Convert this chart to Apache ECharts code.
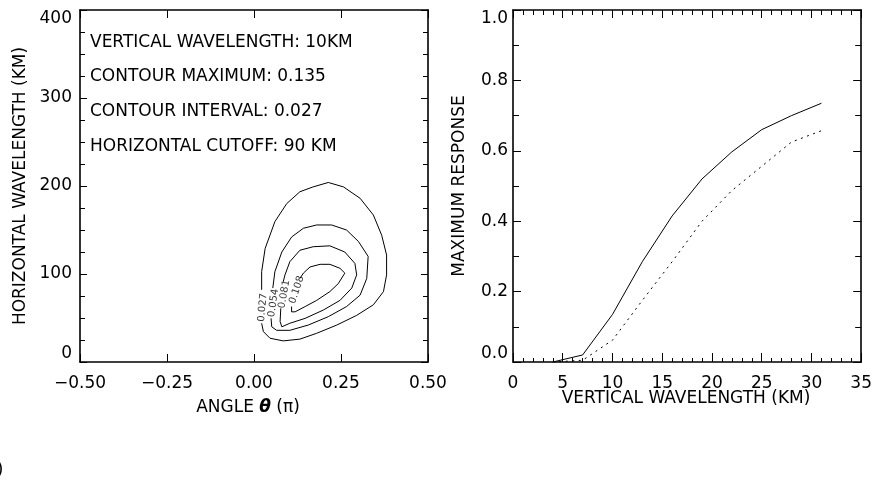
<!DOCTYPE html>
<html><head><meta charset="utf-8">
<script src="https://cdn.jsdelivr.net/npm/echarts@6/dist/echarts.min.js"></script>
<style>html,body{margin:0;padding:0;background:#fff;}#c{width:875px;height:485px;}</style>
</head><body><div id="c"></div>
<script>
// ---------- LEFT PANEL DATA ----------
const angleTickLabels = ['−0.50','−0.25','0.00','0.25','0.50'];
const horizTickLabels = ['0','100','200','300','400'];
const contourLevels = ['0.027','0.054','0.081','0.108'];
// contour paths [angle (pi), horizontal wavelength (km)], open where the label sits
const contour027 = [[0.022,44],[0.027,34.5],[0.046,27],[0.084,24],[0.132,26],[0.180,32.6],[0.238,42],[0.295,53],[0.343,65],[0.372,80],[0.381,99],[0.381,121.6],[0.367,144],[0.343,167],[0.305,186],[0.257,199],[0.2135,204],[0.170,199],[0.132,193.5],[0.094,180],[0.060,159.5],[0.032,129],[0.022,102.6],[0.022,82]];
const contour054 = [[0.049,49.6],[0.051,40],[0.065,36],[0.103,36],[0.156,42],[0.2135,51.5],[0.266,63],[0.305,76],[0.324,95],[0.328,120],[0.300,137],[0.266,150],[0.223,155.7],[0.180,155.7],[0.142,152],[0.108,142],[0.080,125],[0.060,102.6],[0.054,84]];
const contour081 = [[0.077,61],[0.075,46],[0.080,40],[0.103,44],[0.147,49.6],[0.199,59],[0.247,70],[0.281,84],[0.295,99],[0.290,112],[0.261,125],[0.218,132],[0.170,131],[0.132,127],[0.103,114],[0.089,99],[0.084,91]];
const contour108 = [[0.108,63],[0.108,57],[0.118,57],[0.147,63],[0.180,70],[0.218,80],[0.242,89],[0.261,101],[0.247,106.5],[0.218,111],[0.190,111],[0.161,108],[0.142,101],[0.132,95]];
const contourLabelPos = [[0.025,62],[0.056,67],[0.087,77],[0.123,82]];
const contourLabelRot = [85, 82, 80, 72];
const annotations = ['VERTICAL WAVELENGTH: 10KM','CONTOUR MAXIMUM: 0.135','CONTOUR INTERVAL: 0.027','HORIZONTAL CUTOFF: 90 KM'];

// ---------- RIGHT PANEL DATA ----------
const verticalWavelength = [4,7,10,13,16,19,22,25,28,31];
const responseSolid  = [0.0,0.02,0.135,0.285,0.415,0.52,0.597,0.66,0.70,0.735];
const responseDotted = [0.0,0.005,0.062,0.175,0.285,0.40,0.487,0.556,0.625,0.657];
const vertTickLabels = ['0','5','10','15','20','25','30','35'];
const respTickLabels = ['0.0','0.2','0.4','0.6','0.8','1.0'];

const FONT = '"DejaVu Sans ExtraLight", "DejaVu Sans"';
const FS = 17;

function mkAxis(o) {
  return {
    type: 'value', gridIndex: o.grid, position: o.pos,
    min: o.min, max: o.max, interval: o.interval,
    splitLine: {show: false},
    axisLine: {show: true, onZero: false, lineStyle: {color: '#000', width: 1.6}},
    axisTick: {show: true, inside: true, length: o.tick, lineStyle: {color: '#000', width: 1}},
    minorTick: {show: !!o.minor, splitNumber: o.minor || 5, length: o.minorLen || 4, lineStyle: {color: '#000', width: 1}},
    axisLabel: o.labels ? Object.assign({
      show: true, color: '#000', fontFamily: FONT, fontSize: FS, margin: o.margin,
      formatter: function (v) {
        const i = Math.round((v - o.min) / o.interval);
        return o.labels[i] !== undefined ? o.labels[i] : '';
      }
    }, o.extra || {}) : {show: false}
  };
}

const lineStyleBlack = {color: '#000', width: 1};
const contourPaths = [contour027, contour054, contour081, contour108];

const series = contourPaths.map(function (p) {
  return {type: 'line', xAxisIndex: 0, yAxisIndex: 0, data: p, showSymbol: false, symbol: 'none',
    lineStyle: lineStyleBlack, silent: true, animation: false, z: 3};
});
series.push({
  type: 'scatter', xAxisIndex: 0, yAxisIndex: 0, symbolSize: 0, silent: true, animation: false,
  data: contourLabelPos.map(function (p, i) {
    return {value: [p[0], p[1]], label: {show: true, position: 'inside', formatter: contourLevels[i],
      rotate: contourLabelRot[i], color: '#000', fontFamily: FONT, fontSize: 10}};
  })
});
series.push({type: 'line', xAxisIndex: 2, yAxisIndex: 2, showSymbol: false, symbol: 'none', silent: true, animation: false,
  data: verticalWavelength.map(function (x, i) { return [x, responseSolid[i]]; }), lineStyle: lineStyleBlack});
series.push({type: 'line', xAxisIndex: 2, yAxisIndex: 2, showSymbol: false, symbol: 'none', silent: true, animation: false,
  data: verticalWavelength.map(function (x, i) { return [x, responseDotted[i]]; }),
  lineStyle: {color: '#000', width: 1, type: [2, 4.5]}});

const fontStr = FS + 'px ' + FONT;
const graphics = [];
annotations.forEach(function (t, i) {
  graphics.push({type: 'text', x: 90, y: [42.5, 77, 112, 147][i],
    style: {text: t, fill: '#000', font: fontStr, align: 'left', verticalAlign: 'middle'}});
});
graphics.push({type: 'text', x: 21, y: 186, rotation: Math.PI / 2,
  style: {text: 'HORIZONTAL WAVELENGTH (KM)', fill: '#000', font: fontStr, align: 'center', verticalAlign: 'middle'}});
graphics.push({type: 'text', x: 459.5, y: 186, rotation: Math.PI / 2,
  style: {text: 'MAXIMUM RESPONSE', fill: '#000', font: fontStr, align: 'center', verticalAlign: 'middle'}});
graphics.push({type: 'text', x: 248, y: 407.5,
  style: {text: '{n|ANGLE }{g|θ}{n| (π)}', align: 'center', verticalAlign: 'middle',
    rich: {n: {fill: '#000', fontFamily: FONT, fontSize: FS}, g: {fill: '#000', fontFamily: 'DejaVu Sans', fontSize: FS, fontStyle: 'italic', fontWeight: 'bold'}}}});
graphics.push({type: 'text', x: 686, y: 399,
  style: {text: 'VERTICAL WAVELENGTH (KM)', fill: '#000', font: fontStr, align: 'center', verticalAlign: 'middle'}});
graphics.push({type: 'text', x: 3.5, y: 471,
  style: {text: '0)', fill: '#000', font: FS + 'px "DejaVu Sans"', align: 'right', verticalAlign: 'middle'}});

const yExtra = {verticalAlignMinLabel: 'bottom', verticalAlignMaxLabel: 'top'};

const option = {
  animation: false,
  backgroundColor: '#fff',
  grid: [
    {left: 80, top: 10, width: 348, height: 352},
    {left: 513, top: 10, width: 349, height: 352}
  ],
  xAxis: [
    mkAxis({grid: 0, pos: 'bottom', min: -0.5, max: 0.5, interval: 0.25, tick: 8, labels: angleTickLabels, margin: 13}),
    mkAxis({grid: 0, pos: 'top', min: -0.5, max: 0.5, interval: 0.25, tick: 8}),
    mkAxis({grid: 1, pos: 'bottom', min: 0, max: 35, interval: 5, tick: 9, minor: 5, minorLen: 4, labels: vertTickLabels, margin: 13}),
    mkAxis({grid: 1, pos: 'top', min: 0, max: 35, interval: 5, tick: 8, minor: 5, minorLen: 5})
  ],
  yAxis: [
    mkAxis({grid: 0, pos: 'left', min: 0, max: 400, interval: 100, tick: 7, minor: 4, minorLen: 5, labels: horizTickLabels, margin: 8, extra: yExtra}),
    mkAxis({grid: 0, pos: 'right', min: 0, max: 400, interval: 100, tick: 7, minor: 4, minorLen: 5}),
    mkAxis({grid: 1, pos: 'left', min: 0, max: 1, interval: 0.2, tick: 8, minor: 2, minorLen: 6, labels: respTickLabels, margin: 5, extra: yExtra}),
    mkAxis({grid: 1, pos: 'right', min: 0, max: 1, interval: 0.2, tick: 8, minor: 2, minorLen: 6})
  ],
  graphic: graphics,
  series: series
};
const chart = echarts.init(document.getElementById('c'), null, {renderer: 'canvas'});
chart.setOption(option);
</script>
</body></html>
